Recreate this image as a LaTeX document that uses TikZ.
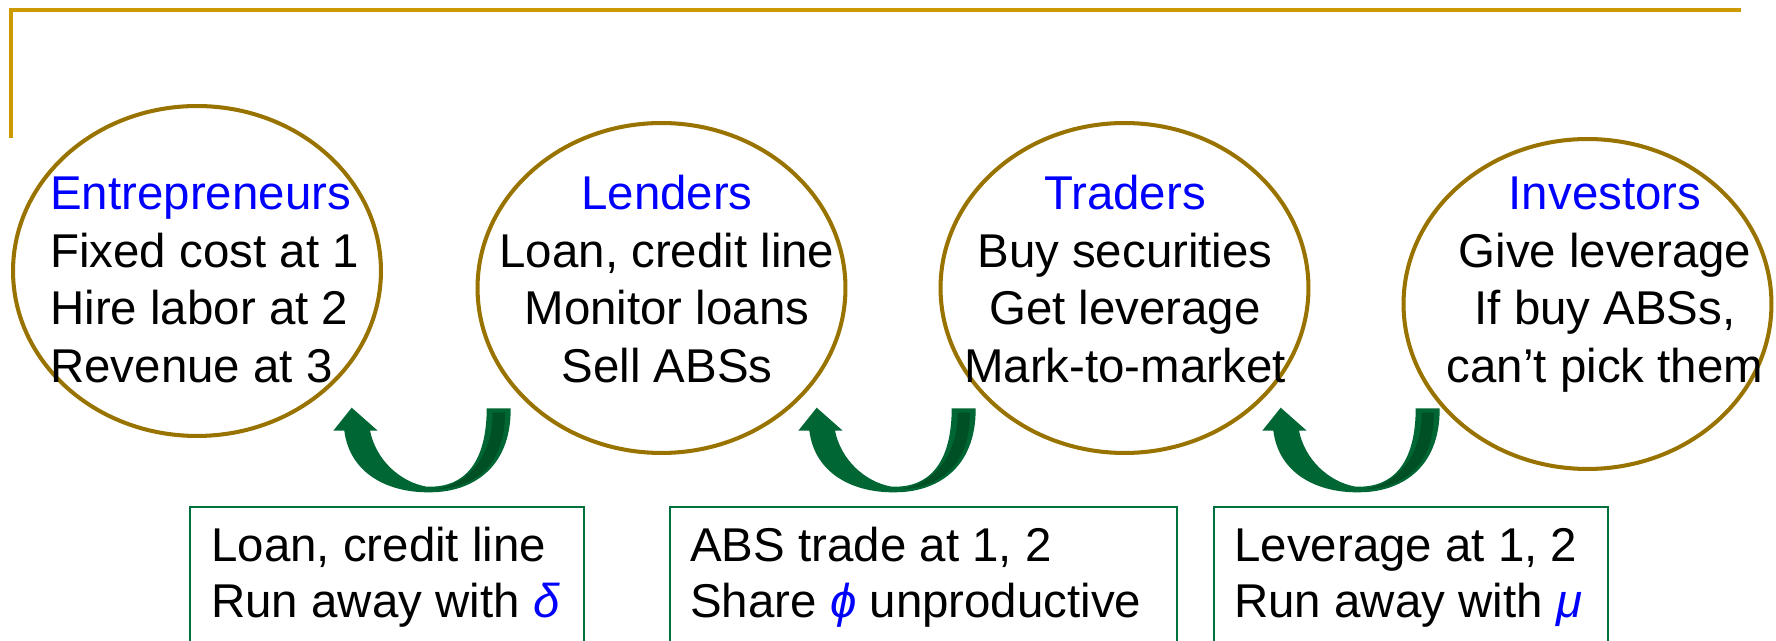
\documentclass[tikz,border=0pt]{standalone}
\usepackage{fontspec}
\setmainfont{Liberation Sans}
\usetikzlibrary{shapes.geometric}

\definecolor{rulegold}{RGB}{204,153,0}
\definecolor{ringbrown}{RGB}{153,115,0}
\definecolor{arrowgreen}{RGB}{0,102,51}
\definecolor{arrowdark}{RGB}{0,80,38}
\definecolor{boxgreen}{RGB}{0,112,60}
\definecolor{rolecol}{RGB}{0,0,255}

\begin{document}
\begin{tikzpicture}[x=0.02cm, y=-0.02cm,
  ring/.style={ellipse, draw=ringbrown, line width=2.3pt,
    minimum width=7.36cm, minimum height=6.6cm, inner sep=0pt},
  txt/.style={font=\fontsize{27}{33}\selectfont, inner sep=0pt, anchor=base},
  txtl/.style={txt, anchor=base west},
  rolename/.style={text=rolecol},
  boxst/.style={draw=boxgreen, line width=1.15pt, anchor=north west,
    inner sep=0pt, minimum height=2.7cm},
  uarrow/.pic={
    % U-turn arrow: tail on the right, head pointing up on the left
    \fill[arrowgreen]
      (510.7,408.3) .. controls (511,470) and (470,492.3) .. (430,492.3)
      .. controls (390,493) and (350,475) .. (344.3,430.7)
      -- (333.3,430.7) -- (351.7,407.7) -- (377.7,430.7) -- (370,430.7)
      .. controls (376,460) and (400,482) .. (426.7,486.7)
      -- (430,486.7) .. controls (470,486.7) and (486.7,455) .. (486.7,408.3)
      -- cycle;
    % shaded inner face of the tail
    \fill[arrowdark]
      (492.7,412.7) -- (505,412.7)
      .. controls (505,468) and (472,488) .. (436.7,489)
      .. controls (468,484) and (492.7,456) .. (492.7,412.7) -- cycle;
  }
]
\useasboundingbox (0,0) rectangle (1776,641);

% frame rule
\draw[rulegold, line width=2.3pt] (11.3,138) -- (11.3,10) -- (1741,10);

% the four groups
\node[ring] (e1) at (197,271) {};
\node[ring] (e2) at (661.5,288) {};
\node[ring] (e3) at (1124.5,288) {};
\node[ring] (e4) at (1587.5,304) {};

% Entrepreneurs
\node[txtl, rolename] (e1h) at (50,210) {Entrepreneurs};
\node[txtl] (e1a) at (50,267.5) {Fixed cost at 1};
\node[txtl] (e1b) at (50,325) {Hire labor at 2};
\node[txtl] (e1c) at (50,382.5) {Revenue at 3};

% Lenders
\node[txt, rolename] (e2h) at (667,210) {Lenders};
\node[txt] (e2a) at (667,267.5) {Loan, credit line};
\node[txt] (e2b) at (667,325) {Monitor loans};
\node[txt] (e2c) at (667,382.5) {Sell ABSs};

% Traders
\node[txt, rolename] (e3h) at (1125,210) {Traders};
\node[txt] (e3a) at (1125,267.5) {Buy securities};
\node[txt] (e3b) at (1125,325) {Get leverage};
\node[txt] (e3c) at (1125,382.5) {Mark-to-market};

% Investors
\node[txt, rolename] (e4h) at (1605,210) {Investors};
\node[txt] (e4a) at (1605,267.5) {Give leverage};
\node[txt] (e4b) at (1605,325) {If buy ABSs,};
\node[txt] (e4c) at (1605,382.5) {can’t pick them};

% curved arrows between neighbouring groups
\pic at (0,0) {uarrow};
\pic at (465,0) {uarrow};
\pic at (929,0) {uarrow};

% contract boxes
\node[boxst, minimum width=7.88cm] (b1) at (189,506) {};
\node[boxst, minimum width=10.14cm] (b2) at (669,506) {};
\node[boxst, minimum width=7.88cm] (b3) at (1213,506) {};

\node[txtl] (b1a) at (211,562) {Loan, credit line};
\node[txtl] (b1b) at (211,618) {Run away with \textcolor{rolecol}{\textit{δ}}};
\node[txtl] (b2a) at (690,562) {ABS trade at 1, 2};
\node[txtl] (b2b) at (690,618) {Share \textcolor{rolecol}{\textit{ϕ}} unproductive};
\node[txtl] (b3a) at (1234,562) {Leverage at 1, 2};
\node[txtl] (b3b) at (1234,618) {Run away with \textcolor{rolecol}{\textit{μ}}};
\end{tikzpicture}
\end{document}
